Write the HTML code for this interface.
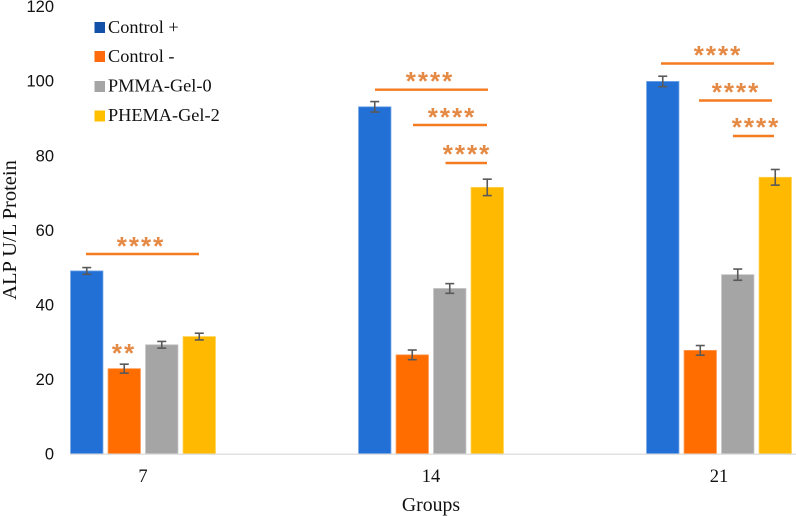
<!DOCTYPE html>
<html>
<head>
<meta charset="utf-8">
<style>
html,body{margin:0;padding:0;background:#fff;width:796px;height:516px;overflow:hidden}
svg{display:block}
.serif{font-family:"Liberation Serif",serif;fill:#111}
.sans{font-family:"Liberation Sans",sans-serif;fill:#111}
.stars{font-family:"Liberation Sans",sans-serif;font-size:26px;font-weight:bold;fill:#e58a45;letter-spacing:2px;text-anchor:middle}
.sig{stroke:#f47b20;stroke-width:2.4}
</style>
</head>
<body>
<svg id="chart" width="796" height="516" viewBox="0 0 796 516" xmlns="http://www.w3.org/2000/svg">
  <g id="bars"></g>
  <g id="errors"></g>
  <g id="axes"></g>
  <text class="serif" font-size="20.5" text-anchor="middle" transform="translate(16,230) rotate(-90)">ALP U/L Protein</text>
  <text class="serif" font-size="19.8" text-anchor="middle" x="431" y="511">Groups</text>

  <g>
    <g>
      <rect x="94.5" y="22" width="10.5" height="11" fill="#1350a8"/>
      <text class="serif" font-size="18.3" x="108" y="33">Control +</text>
    </g>
    <g>
      <rect x="94.5" y="51" width="10.5" height="11" fill="#ff6a0d"/>
      <text class="serif" font-size="18.3" x="108" y="62">Control -</text>
    </g>
    <g>
      <rect x="94.5" y="81" width="10.5" height="11" fill="#a5a5a5"/>
      <text class="serif" font-size="18.3" x="108" y="91.5">PMMA-Gel-0</text>
    </g>
    <g>
      <rect x="94.5" y="110.5" width="10.5" height="11" fill="#ffc000"/>
      <text class="serif" font-size="18.3" x="108" y="121">PHEMA-Gel-2</text>
    </g>
  </g>

  <g>
    <line class="sig" x1="86" x2="199" y1="254" y2="254"/>
    <text class="stars" x="141" y="255">****</text>
    <text class="stars" x="124" y="362">**</text>

    <line class="sig" x1="375" x2="488" y1="89.7" y2="89.7"/>
    <text class="stars" x="430" y="90">****</text>
    <line class="sig" x1="413" x2="487" y1="125" y2="125"/>
    <text class="stars" x="452" y="126">****</text>
    <line class="sig" x1="445.5" x2="487" y1="163" y2="163"/>
    <text class="stars" x="467" y="163">****</text>

    <line class="sig" x1="661" x2="774" y1="63.5" y2="63.5"/>
    <text class="stars" x="718" y="64">****</text>
    <line class="sig" x1="699" x2="772" y1="100.5" y2="100.5"/>
    <text class="stars" x="736" y="101">****</text>
    <line class="sig" x1="733" x2="774" y1="136" y2="136"/>
    <text class="stars" x="756" y="136">****</text>
  </g>
</svg>
<script>
const categories = ['7', '14', '21'];
const yTickLabels = [0, 20, 40, 60, 80, 100, 120];
const controlPlus = [49, 93, 99.8];
const controlMinus = [22.8, 26.5, 27.7];
const pmmaGel0 = [29.2, 44.3, 48];
const phemaGel2 = [31.4, 71.4, 74.1];
const controlPlusErr = [0.9, 1.4, 1.4];
const controlMinusErr = [1.2, 1.3, 1.3];
const pmmaGel0Err = [0.9, 1.3, 1.5];
const phemaGel2Err = [0.9, 2.2, 2.1];

const NS = 'http://www.w3.org/2000/svg';
const seriesList = [
  { key: 'control-plus', values: controlPlus, errs: controlPlusErr, fill: '#226fd6', edge: '#6fa3e6' },
  { key: 'control-minus', values: controlMinus, errs: controlMinusErr, fill: '#ff6d00', edge: '#ff9a55' },
  { key: 'pmma-gel-0', values: pmmaGel0, errs: pmmaGel0Err, fill: '#a5a5a5', edge: '#c4c4c4' },
  { key: 'phema-gel-2', values: phemaGel2, errs: phemaGel2Err, fill: '#ffb900', edge: '#ffd24d' }
];

function yScale(v) { return 453.7 - v * 3.73; }
function xGroup(i) { return 143 + i * 288; }
function xBar(i, s) { return xGroup(i) + (s - 1.5) * 37.5; }

function make(tag, attrs, parent) {
  const el = document.createElementNS(NS, tag);
  for (const k in attrs) el.setAttribute(k, attrs[k]);
  parent.appendChild(el);
  return el;
}

const barsG = document.getElementById('bars');
const errG = document.getElementById('errors');
const axesG = document.getElementById('axes');

const axisLine = make('line', { x1: 70, x2: 796, y1: yScale(0) + 0.5, y2: yScale(0) + 0.5, stroke: '#d9d9d9', 'stroke-width': 1.2 }, axesG);



yTickLabels.forEach(function (t) {
  const lab = make('text', { x: 54, y: yScale(t) + 6, 'text-anchor': 'end', 'font-size': 16.5, class: 'sans' }, axesG);
  lab.textContent = t;
  
  
});

categories.forEach(function (c, i) {
  const lab = make('text', { x: xGroup(i), y: 482, 'text-anchor': 'middle', 'font-size': 18.5, class: 'serif' }, axesG);
  lab.textContent = c;
  
  
});

seriesList.forEach(function (ser, s) {
  categories.forEach(function (c, i) {
    const v = ser.values[i];
    const e = ser.errs[i];
    const cx = xBar(i, s);
    const top = yScale(v);
    const bar = make('rect', { x: cx - 16.2, y: top, width: 32.4, height: yScale(0) - top, fill: ser.fill, stroke: ser.edge, 'stroke-width': 0.8 }, barsG);
    
    
    const hi = yScale(v + e);
    const lo = yScale(v - e);
    const stem = make('line', { x1: cx, x2: cx, y1: hi, y2: lo, stroke: '#595959', 'stroke-width': 1.6 }, errG);
    
    
    const capTop = make('line', { x1: cx - 4.5, x2: cx + 4.5, y1: hi, y2: hi, stroke: '#595959', 'stroke-width': 1.6 }, errG);
    
    
    const capBot = make('line', { x1: cx - 4.5, x2: cx + 4.5, y1: lo, y2: lo, stroke: '#595959', 'stroke-width': 1.6 }, errG);
    
    
  });
});
</script>
</body>
</html>
